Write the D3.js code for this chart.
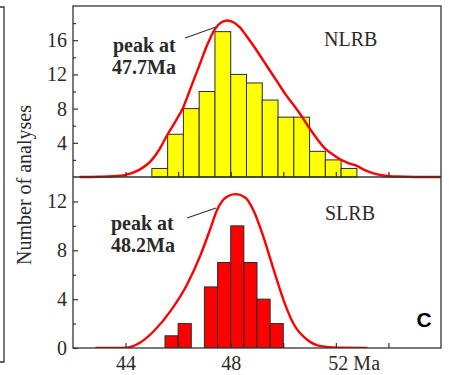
<!DOCTYPE html>
<html>
<head>
<meta charset="utf-8">
<script src="https://cdn.jsdelivr.net/npm/d3@7"></script>
<style>
  body { margin: 0; background: #fff; }
  svg { display: block; }
</style>
</head>
<body>
<svg width="449" height="375"></svg>
<script>
// NLRB histogram: bins of 0.6 Ma starting at 45.0 Ma
const nlrbBinStart = [45.0, 45.6, 46.2, 46.8, 47.4, 48.0, 48.6, 49.2, 49.8, 50.4, 51.0, 51.6, 52.2]
const nlrbCounts = [1, 5, 8, 10, 17, 12, 11, 9, 7, 7, 3, 2, 1]
const nlrbBinWidth = 0.6

// SLRB histogram: bins of 0.5 Ma
const slrbBinStart = [45.5, 46.0, 46.5, 47.0, 47.5, 48.0, 48.5, 49.0, 49.5]
const slrbCounts = [1, 2, 0, 5, 7, 10, 7, 4, 2]
const slrbBinWidth = 0.5

// probability curves [Ma, value]
const nlrbCurve = [
  [42.25, 0], [43, 0.03], [43.5, 0.08], [44, 0.25], [44.5, 0.8], [45.0, 2.0], [45.3, 3.3],
  [45.6, 5.0], [45.9, 6.5], [46.2, 8.2], [46.5, 10.6], [46.8, 13.0], [47.1, 15.4], [47.4, 17.3],
  [47.65, 18.1], [47.87, 18.3], [48.1, 18.1], [48.35, 17.5], [48.6, 16.5], [48.9, 15.2],
  [49.2, 13.8], [49.5, 12.4], [49.8, 11.0], [50.1, 9.6], [50.4, 8.4], [50.7, 7.1], [51.0, 5.7],
  [51.3, 4.4], [51.6, 3.3], [51.9, 2.6], [52.2, 2.0], [52.5, 1.6], [52.8, 1.3], [53.1, 0.8],
  [53.4, 0.45], [53.8, 0.18], [54.3, 0.05], [55, 0], [56, 0]
]
const slrbCurve = [
  [42.85, 0], [43.5, 0.0], [44.05, 0.03], [44.56, 0.45], [45.06, 1.35], [45.7, 3.0],
  [46.34, 5.2], [46.85, 7.6], [47.23, 9.8], [47.48, 11.3], [47.87, 12.4], [48.18, 12.6],
  [48.56, 12.3], [48.88, 11.2], [49.26, 9.0], [49.65, 6.3], [50.03, 3.8], [50.41, 1.9],
  [50.92, 0.66], [51.43, 0.15], [52.1, 0.02], [53.2, 0]
]

const xMajor = [44, 48, 52]
const xTicks = [44, 46, 48, 50, 52, 54]
const yTopMajor = [4, 8, 12, 16]
const yTopMinor = [2, 6, 10, 14, 18]
const yBotMajor = [0, 4, 8, 12]
const yBotMinor = [2, 6, 10]

const svg = d3.select('svg')
const width = +svg.attr('width')
const height = +svg.attr('height')
const margin = { top: 6, right: 8, bottom: 27, left: 73 }
const innerWidth = width - margin.left - margin.right
const innerHeight = height - margin.top - margin.bottom
const panelHeight = innerHeight / 2

const serif = "'Liberation Serif', 'Times New Roman', serif"
const ink = '#333'
const textInk = '#2a2a2a'

// piece of the neighbouring panel's frame at the left edge
svg.append('path')
  .attr('d', 'M0,7H4V362H0')
  .attr('fill', 'none')
  .attr('stroke', ink)
  .attr('stroke-width', 1.3)

const g = svg.append('g')
  .attr('transform', `translate(${margin.left},${margin.top})`)

const xScale = d3.scaleLinear()
  .domain([42, 56])
  .range([0, innerWidth])

const yTop = d3.scaleLinear()
  .domain([0, 20])
  .range([panelHeight, 0])

const yBot = d3.scaleLinear()
  .domain([0, 14])
  .range([innerHeight, panelHeight])

g.append('clipPath').attr('id', 'clip')
  .append('rect')
  .attr('width', innerWidth)
  .attr('height', innerHeight)

const plot = g.append('g').attr('clip-path', 'url(#clip)')

// bars
const drawBars = (starts, counts, binW, yScale, fill) => {
  plot.append('g')
    .selectAll('rect')
    .data(starts.map((s, i) => ({ s, c: counts[i] })).filter(d => d.c > 0))
    .join('rect')
    .attr('x', d => xScale(d.s))
    .attr('width', d => xScale(d.s + binW) - xScale(d.s))
    .attr('y', d => yScale(d.c))
    .attr('height', d => yScale(0) - yScale(d.c))
    .attr('fill', fill)
    .attr('stroke', '#2b2b2b')
    .attr('stroke-width', 1)
}

drawBars(nlrbBinStart, nlrbCounts, nlrbBinWidth, yTop, '#ffff00')
drawBars(slrbBinStart, slrbCounts, slrbBinWidth, yBot, '#ff0000')

// curves
const line = yScale => d3.line()
  .x(d => xScale(d[0]))
  .y(d => yScale(d[1]))
  .curve(d3.curveMonotoneX)

plot.append('path')
  .attr('d', line(yTop)(nlrbCurve))
  .attr('fill', 'none')
  .attr('stroke', '#ff0000')
  .attr('stroke-width', 2.4)

plot.append('path')
  .attr('d', line(yBot)(slrbCurve))
  .attr('fill', 'none')
  .attr('stroke', '#ff0000')
  .attr('stroke-width', 2.4)

const styleAxis = a => {
  a.attr('font-family', serif).attr('font-size', 20)
  a.select('.domain').remove()
  a.selectAll('.tick line').attr('stroke', ink).attr('stroke-width', 1.2)
  a.selectAll('.tick text').attr('fill', textInk)
}

// x axes (ticks point inward)
g.append('g')
  .attr('transform', `translate(0,${panelHeight})`)
  .call(d3.axisBottom(xScale).tickValues(xTicks).tickSize(-5).tickFormat(''))
  .call(styleAxis)
  .call(a => a.selectAll('.tick text').remove())

const xBotGroup = g.append('g')
  .attr('transform', `translate(0,${innerHeight})`)
  .call(d3.axisBottom(xScale)
    .tickValues(xTicks)
    .tickSize(-5)
    .tickPadding(8)
    .tickFormat(d => d === 52 ? '52 Ma' : d))
  .call(styleAxis)

xBotGroup.selectAll('.tick text')
  .filter(d => !xMajor.includes(d))
  .remove()
xBotGroup.selectAll('.tick text')
  .filter(d => d === 52)
  .attr('text-anchor', 'start')
  .attr('x', -8)

// y axes
const yAxis = (scale, major, minor) => {
  const grp = g.append('g')
  grp.append('g')
    .call(d3.axisLeft(scale).tickValues(major).tickSize(-5).tickPadding(6))
    .call(styleAxis)
  grp.append('g')
    .call(d3.axisLeft(scale).tickValues(minor).tickSize(-3).tickFormat(''))
    .call(styleAxis)
    .call(a => a.selectAll('.tick text').remove())
}
yAxis(yTop, yTopMajor, yTopMinor)
yAxis(yBot, yBotMajor, yBotMinor)

// frame and divider
g.append('rect')
  .attr('width', innerWidth)
  .attr('height', innerHeight)
  .attr('fill', 'none')
  .attr('stroke', ink)
  .attr('stroke-width', 1.3)

g.append('line')
  .attr('x1', 0)
  .attr('x2', innerWidth)
  .attr('y1', panelHeight)
  .attr('y2', panelHeight)
  .attr('stroke', ink)
  .attr('stroke-width', 1.3)

// y label
svg.append('text')
  .attr('transform', `translate(31,${margin.top + innerHeight / 2 + 8}) rotate(-90)`)
  .attr('text-anchor', 'middle')
  .attr('font-family', serif)
  .attr('font-size', 20)
  .attr('fill', textInk)
  .text('Number of analyses')

// labels in page coordinates
const label = (x, y, txt, opts = {}) => svg.append('text')
  .attr('x', x)
  .attr('y', y)
  .attr('font-family', opts.family || serif)
  .attr('font-size', opts.size || 20)
  .attr('font-weight', opts.weight || 'normal')
  .attr('fill', opts.fill || textInk)
  .attr('text-anchor', opts.anchor || 'start')
  .text(txt)

label(324, 46, 'NLRB')
label(325, 220, 'SLRB')

// peak annotations
label(113, 52, 'peak at', { weight: 'bold' })
label(112, 74, '47.7Ma', { weight: 'bold' })
label(111, 230, 'peak at', { weight: 'bold' })
label(111, 252, '48.2Ma', { weight: 'bold' })

const leader = (x1, y1, x2, y2) => svg.append('line')
  .attr('x1', x1).attr('y1', y1).attr('x2', x2).attr('y2', y2)
  .attr('stroke', ink)
  .attr('stroke-width', 1.2)

leader(185, 38, 216, 27)
leader(187, 218, 216, 208)

label(424, 327, 'C', {
  family: "'Liberation Sans', Arial, sans-serif",
  weight: 'bold',
  size: 21,
  fill: '#000',
  anchor: 'middle'
})
</script>
</body>
</html>
